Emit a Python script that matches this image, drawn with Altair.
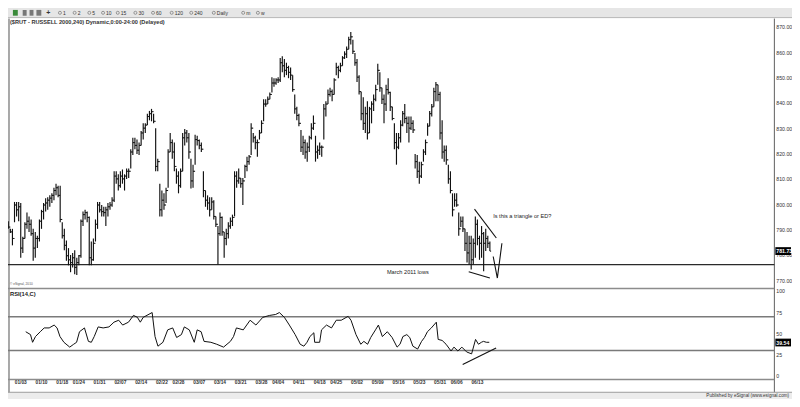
import altair as alt
import pandas as pd

W, H = 784, 391
SX, SY = W / 800.0, H / 407.0
FONT = "Liberation Sans"

# ---------------- data ----------------
# 240-minute bars of $RUT, two per trading day, bar 6 = first bar of 01/03
bar_high = [
    793.5, 790.5, 790.5, 801.1, 801.1, 801.1, 800.7, 787.4, 793.1, 796.9,
    795.4, 794.2, 790.5, 789.3, 787.8, 794.2, 798.0, 800.7, 802.6, 803.0,
    803.7, 804.5, 806.7, 808.3, 807.5, 807.5, 793.1, 790.5, 785.9, 782.9,
    780.2, 781.0, 782.1, 779.1, 780.2, 794.2, 797.3, 798.0, 797.3, 795.4,
    785.5, 786.7, 794.2, 801.1, 801.1, 799.9, 799.2, 799.2, 800.7, 801.1,
    803.0, 813.2, 813.2, 812.0, 813.2, 813.9, 812.0, 814.3, 814.3, 821.9,
    826.4, 826.4, 825.7, 824.5, 829.1, 832.1, 832.1, 835.9, 837.0, 837.8,
    835.9, 830.2, 818.1, 808.3, 805.6, 804.5, 806.7, 821.9, 828.3, 825.7,
    824.5, 814.3, 813.2, 814.3, 828.3, 829.9, 829.5, 828.3, 818.1, 815.8,
    827.6, 827.2, 825.7, 824.5, 813.2, 805.6, 803.7, 803.0, 803.0, 801.8,
    795.4, 791.6, 796.9, 795.4, 789.3, 790.5, 793.1, 795.0, 796.1, 813.2,
    813.2, 814.3, 810.5, 810.5, 815.8, 818.9, 819.6, 832.1, 828.3, 827.2,
    825.7, 829.5, 833.3, 841.6, 841.6, 842.7, 844.3, 850.3, 849.9, 849.9,
    850.3, 857.9, 858.6, 857.5, 856.0, 854.8, 854.1, 851.1, 843.5, 838.6,
    835.9, 829.5, 827.2, 825.7, 824.5, 827.2, 832.1, 835.2, 827.2, 823.4,
    824.5, 823.4, 839.7, 840.8, 845.4, 846.1, 845.4, 849.9, 856.0, 854.8,
    856.0, 858.6, 860.5, 862.4, 866.2, 868.1, 865.1, 859.8, 857.5, 851.1,
    844.6, 842.4, 838.6, 840.8, 838.6, 840.8, 843.5, 847.3, 855.6, 852.2,
    846.1, 843.5, 847.3, 849.9, 844.6, 838.6, 832.1, 828.3, 828.3, 833.3,
    837.0, 839.7, 834.8, 834.8, 834.8, 833.3, 820.0, 819.6, 817.0, 817.0,
    821.9, 825.7, 832.1, 837.0, 839.7, 846.1, 848.4, 847.3, 844.6, 833.3,
    823.4, 823.4, 815.8, 813.2, 804.5, 804.5, 804.5, 796.9, 795.4, 795.4,
    790.5, 789.3, 787.8, 787.8, 786.7, 795.4, 794.2, 787.8, 791.6, 789.3,
    790.5, 787.8, 785.5,
]
bar_low = [
    790.5, 788.9, 784.0, 793.1, 795.4, 793.5, 779.1, 781.0, 786.7, 790.5,
    789.3, 787.8, 777.9, 779.1, 782.9, 785.5, 790.5, 794.2, 797.3, 798.0,
    799.2, 800.7, 801.8, 803.7, 803.0, 793.1, 786.7, 782.1, 777.9, 776.1,
    773.4, 775.3, 772.6, 772.3, 776.1, 779.1, 791.6, 794.2, 793.1, 776.1,
    776.1, 777.9, 785.5, 790.5, 796.9, 795.4, 795.4, 791.6, 795.4, 798.0,
    799.2, 801.1, 808.3, 805.6, 806.7, 808.3, 805.6, 810.2, 810.5, 814.3,
    819.6, 821.9, 820.0, 819.6, 823.4, 825.7, 828.3, 831.4, 833.3, 832.9,
    832.1, 813.2, 813.2, 795.4, 795.4, 798.0, 800.7, 806.7, 820.8, 818.1,
    813.2, 808.3, 804.5, 806.7, 813.2, 823.4, 824.5, 818.1, 806.4, 806.7,
    815.8, 823.4, 821.9, 820.8, 803.0, 799.2, 798.0, 795.4, 798.0, 794.2,
    791.2, 776.4, 787.8, 787.8, 779.1, 784.0, 786.7, 790.5, 791.6, 795.4,
    806.7, 808.3, 806.7, 799.9, 810.5, 813.2, 815.8, 819.6, 824.5, 821.9,
    818.9, 825.7, 828.3, 832.9, 838.6, 839.7, 841.6, 844.3, 846.5, 847.3,
    848.0, 848.4, 852.2, 850.3, 851.1, 849.9, 849.2, 844.6, 835.9, 833.3,
    831.0, 820.8, 819.6, 818.1, 817.0, 820.8, 825.7, 829.5, 817.0, 818.1,
    819.6, 818.9, 825.7, 834.8, 839.7, 842.7, 840.8, 843.5, 851.1, 849.9,
    852.2, 854.8, 857.5, 857.9, 861.3, 863.2, 859.4, 854.8, 848.4, 843.5,
    833.3, 829.5, 828.3, 825.7, 828.3, 832.1, 837.0, 840.8, 847.3, 844.6,
    839.7, 832.1, 837.0, 843.5, 837.0, 833.3, 821.9, 815.8, 821.9, 824.5,
    831.0, 832.1, 828.3, 824.5, 829.5, 828.3, 814.3, 810.5, 808.3, 810.5,
    817.0, 819.6, 827.2, 831.0, 834.8, 838.6, 840.8, 840.8, 825.7, 818.1,
    817.0, 815.8, 808.3, 804.5, 795.4, 799.2, 799.2, 787.8, 791.2, 789.3,
    781.8, 777.2, 776.4, 774.5, 776.4, 779.1, 784.0, 778.3, 779.1, 773.8,
    781.8, 782.9, 781.8,
]
bar_close = [
    791.2, 789.3, 786.7, 799.9, 798.0, 799.2, 782.9, 786.7, 792.3, 793.5,
    792.3, 788.6, 782.9, 786.7, 786.7, 793.5, 797.3, 799.9, 800.7, 801.8,
    802.6, 803.7, 805.6, 806.7, 803.7, 794.2, 787.8, 784.0, 779.9, 778.3,
    777.2, 779.1, 775.3, 777.2, 779.9, 793.5, 796.1, 796.9, 795.0, 779.1,
    778.3, 784.8, 792.3, 799.9, 798.0, 797.3, 796.9, 798.0, 799.2, 799.9,
    801.8, 811.3, 810.2, 807.5, 811.3, 810.2, 811.3, 813.2, 813.2, 820.8,
    824.5, 823.4, 821.5, 823.4, 828.3, 830.2, 831.4, 834.8, 835.9, 836.7,
    832.9, 815.1, 817.0, 798.0, 801.8, 799.9, 805.6, 820.8, 824.5, 820.8,
    815.1, 811.3, 807.5, 813.2, 826.4, 828.3, 826.4, 820.8, 809.4, 813.2,
    825.7, 825.3, 823.4, 821.9, 805.6, 801.8, 800.7, 798.0, 801.1, 795.4,
    792.3, 788.6, 795.0, 789.3, 786.7, 788.6, 791.6, 793.5, 795.0, 811.3,
    809.4, 810.5, 808.3, 809.4, 815.1, 817.0, 818.9, 830.2, 826.4, 824.5,
    824.5, 828.3, 832.1, 839.7, 839.7, 841.6, 843.5, 848.0, 848.0, 849.2,
    849.2, 856.0, 854.8, 853.0, 854.1, 852.2, 851.1, 845.4, 837.8, 835.2,
    832.1, 822.7, 824.5, 820.8, 822.7, 826.4, 830.2, 832.1, 820.8, 821.5,
    822.7, 822.7, 837.8, 839.7, 843.5, 844.6, 843.5, 849.2, 854.1, 853.0,
    854.8, 857.9, 859.4, 861.3, 865.1, 866.2, 860.5, 856.0, 850.3, 844.6,
    835.9, 832.1, 835.9, 828.3, 837.8, 839.7, 841.6, 845.4, 853.0, 846.1,
    841.6, 839.7, 845.4, 844.3, 838.6, 834.0, 824.5, 822.7, 826.4, 831.4,
    835.9, 834.0, 832.1, 830.2, 832.1, 829.5, 817.0, 813.2, 811.3, 815.8,
    820.8, 824.5, 831.0, 835.9, 838.6, 844.6, 847.3, 843.5, 828.3, 820.8,
    821.5, 817.7, 810.2, 805.6, 798.0, 801.8, 799.9, 790.5, 793.5, 790.5,
    784.8, 781.0, 784.8, 778.3, 784.8, 792.3, 786.7, 784.8, 788.6, 784.8,
    786.7, 784.8, 781.7,
]
first_open = 792.0

# RSI(14,C) read as vertices of the line (bar position, value)
rsi_bar = [8.4, 10.7, 11.7, 13.1, 15.4, 17.3, 19.7, 22.1, 23.5, 24.9, 26.8, 29.6, 31.5, 32.9,
           34.3, 36.7, 38.6, 40.0, 41.4, 43.3, 45.7, 48.5, 50.9, 53.2, 55.1, 57.9, 60.3, 62.2,
           63.6, 65.0, 69.3, 70.7, 72.1, 74.5, 76.8, 79.2, 81.1, 83.4, 84.8, 87.2, 89.6, 91.0,
           92.9, 94.3, 97.6, 100.4, 103.7, 107.0, 108.5, 109.9, 113.2, 116.5, 119.3, 122.6,
           125.9, 128.8, 130.6, 133.0, 135.4, 138.2, 140.6, 142.4, 143.9, 145.3, 147.2, 147.6,
           150.0, 150.9, 153.3, 155.7, 158.0, 160.4, 163.7, 165.1, 167.5, 169.8, 171.3, 173.1,
           174.6, 176.9, 178.3, 180.2, 182.6, 184.9, 187.3, 188.7, 190.1, 192.0, 193.4, 194.9,
           197.2, 199.1, 200.5, 201.9, 203.8, 206.2, 207.1, 209.0, 210.9, 213.3, 214.7, 216.6,
           218.5, 220.8, 223.2, 225.1, 226.5, 227.9, 228.9, 230.3, 231.7]
rsi_value = [52.3, 48.9, 39.8, 46.6, 52.3, 56.8, 56.8, 60.2, 56.8, 46.6, 39.8, 34.1, 37.5, 39.8,
             52.3, 56.8, 40.9, 39.8, 46.6, 58.0, 56.8, 58.0, 63.6, 65.9, 60.2, 63.6, 71.6, 69.3,
             63.6, 69.3, 75.0, 46.6, 35.2, 39.8, 54.5, 56.8, 45.5, 48.9, 58.0, 54.5, 39.8, 54.5,
             52.3, 40.9, 39.8, 37.5, 34.1, 40.9, 46.6, 56.8, 54.5, 65.9, 60.2, 69.3,
             71.6, 72.7, 75.0, 69.3, 60.2, 48.9, 37.5, 35.2, 39.8, 46.6, 51.1, 39.8,
             39.8, 54.5, 60.2, 56.8, 65.9, 65.9, 70.5, 65.9, 48.9, 37.5, 40.9, 37.5,
             45.5, 54.5, 60.2, 46.6, 52.3, 45.5, 34.1, 37.5, 46.6, 48.9, 45.5, 35.2,
             31.8, 40.9, 45.5, 52.3, 56.8, 63.6, 43.2, 42.0, 37.5, 29.5, 34.1, 29.5,
             34.1, 28.4, 26.1, 43.2, 37.5, 39.8, 40.9, 39.8, 39.8]

date_labels = ["01/03", "01/10", "01/18", "01/24", "01/31", "02/07", "02/14", "02/22",
               "02/28", "03/07", "03/14", "03/21", "03/28", "04/04", "04/11", "04/18",
               "04/25", "05/02", "05/09", "05/16", "05/23", "05/31", "06/06", "06/13"]
date_day = [0, 5, 10, 14, 19, 24, 29, 34, 38, 43, 48, 53, 58, 62, 67, 72, 76, 81, 86, 91,
            96, 101, 105, 110]   # trading-day number from 01/03

price_ticks = [770, 780, 790, 800, 810, 820, 830, 840, 850, 860, 870]
rsi_ticks = [0, 25, 50, 75, 100]
rsi_bands = [30, 70]
march_low = 776.4
last_price = 781.73
last_rsi = 39.54

# hand-drawn annotations (bar position, value)
trend_seg = ["upper", "upper", "lower", "lower", "v", "v", "v"]
trend_bar = [224.6, 235.1, 221.8, 232.0, 233.6, 235.6, 237.8]
trend_price = [798.3, 786.9, 773.6, 771.1, 779.6, 771.1, 784.8]
rsi_trend_bar = [218.9, 235.0]
rsi_trend_value = [13.6, 33.0]

toolbar_labels = ["1", "2", "5", "10", "15", "30", "60", "120", "240", "Daily", "m", "w"]
toolbar_pos = [53, 68, 83, 97, 112, 130, 148, 167, 187, 210, 240, 255]

# ---------------- tables ----------------
n = len(bar_high)
bars = pd.DataFrame({"i": list(range(n)), "high": bar_high, "low": bar_low,
                     "close": bar_close, "open": [first_open] + bar_close[:-1]})
rsi = pd.DataFrame({"i": rsi_bar, "v": rsi_value})
dates = pd.DataFrame({"lab": date_labels, "i": [6 + 2 * d for d in date_day]})
pt = pd.DataFrame({"p": price_ticks, "lab": [f"{p:.2f}" for p in price_ticks]})
rt = pd.DataFrame({"v": rsi_ticks, "lab": [str(v) for v in rsi_ticks]})
bands = pd.DataFrame({"v": rsi_bands})
trend = pd.DataFrame({"seg": trend_seg, "i": trend_bar, "p": trend_price})
rtrend = pd.DataFrame({"i": rsi_trend_bar, "v": rsi_trend_value})
one = pd.DataFrame({"a": [0]})

xs = alt.Scale(domain=[6, 226], range=[13 * SX, 479 * SX], zero=False, nice=False)
ps = alt.Scale(domain=[770, 870], range=[284 * SY, 20 * SY], zero=False, nice=False)
rs = alt.Scale(domain=[0, 100], range=[383 * SY, 295 * SY], zero=False, nice=False)


def XQ(f):
    return alt.X(f, type="quantitative", scale=xs, axis=None)


def YP(f):
    return alt.Y(f, type="quantitative", scale=ps, axis=None)


def YR(f):
    return alt.Y(f, type="quantitative", scale=rs, axis=None)


def px(v):
    return v * SX


def py(v):
    return v * SY


def hline(y, x0, x1, color, w):
    return alt.Chart(one).mark_rule(color=color, strokeWidth=w).encode(
        x=alt.value(px(x0)), x2=alt.value(px(x1)), y=alt.value(py(y)))


def vline(x, y0, y1, color, w):
    return alt.Chart(one).mark_rule(color=color, strokeWidth=w).encode(
        x=alt.value(px(x)), y=alt.value(py(y0)), y2=alt.value(py(y1)))


def rect(x0, x1, y0, y1, color):
    return alt.Chart(one).mark_rect(color=color).encode(
        x=alt.value(px(x0)), x2=alt.value(px(x1)), y=alt.value(py(y0)), y2=alt.value(py(y1)))


def label(txt, x, y, size, align="left", weight="normal", color="#222"):
    return alt.Chart(one).mark_text(align=align, baseline="middle", fontSize=size, font=FONT,
                                     fontWeight=weight, color=color).encode(
        x=alt.value(px(x)), y=alt.value(py(y)), text=alt.value(txt))


layers = []
# window chrome
layers.append(rect(0, 800, 0, 10, "#e6e6e6"))
layers.append(hline(10, 0, 800, "#b8b8b8", 1))
layers.append(rect(5, 10, 2, 8, "#3a8a3a"))
layers.append(rect(15, 19, 2, 8, "#777777"))
layers.append(rect(22, 26, 2, 8, "#777777"))
layers.append(rect(29, 34, 2, 8, "#777777"))
layers.append(label("+", 41, 5, 7, "center", "bold", "#333"))
tb = pd.DataFrame({"lab": toolbar_labels, "x": [px(v) for v in toolbar_pos]})
layers.append(alt.Chart(tb).mark_point(shape="circle", filled=False, size=9, color="#555",
                                        strokeWidth=0.8).encode(
    x=alt.X("x:Q", scale=None), y=alt.value(py(5))))
layers.append(alt.Chart(tb).mark_text(align="left", baseline="middle", fontSize=5, font=FONT,
                                       color="#333", dx=3).encode(
    x=alt.X("x:Q", scale=None), y=alt.value(py(5)), text="lab:N"))
layers.append(label("($RUT - RUSSELL 2000,240) Dynamic,0:00-24:00 (Delayed)", 2, 14.5, 5.6,
                    weight="bold", color="#333"))

# panel frames
layers.append(vline(1, 11, 400, "#a8a8a8", 2))
layers.append(vline(782, 11, 400, "#606060", 1))
layers.append(hline(292, 0, 782, "#8c8c8c", 1.5))
layers.append(hline(386.8, 0, 782, "#8c8c8c", 1.5))
layers.append(rect(0, 800, 400.5, 407, "#ececec"))
layers.append(hline(400, 0, 800, "#9a9a9a", 1))
layers.append(label("Published by eSignal (www.esignal.com)", 797, 404, 4.6, "right", color="#333"))
layers.append(label("\u00a9 eSignal, 2010", 2, 287.5, 3.2, color="#555"))
layers.append(label("RSI(14,C)", 2, 297.5, 5.8, weight="bold", color="#222"))

# price panel
layers.append(alt.Chart(pd.DataFrame({"p": [march_low]})).mark_rule(
    color="#2a2a2a", strokeWidth=1.4).encode(
    y=YP("p"), x=alt.value(0), x2=alt.value(px(782))))
layers.append(alt.Chart(bars).mark_rule(color="#111111", strokeWidth=1.15).encode(
    x=XQ("i"), y=YP("low"), y2="high"))
layers.append(alt.Chart(bars).transform_calculate(xo="datum.i - 0.6").mark_rule(
    color="#111111", strokeWidth=1).encode(x=XQ("xo"), x2="i:Q", y=YP("open")))
layers.append(alt.Chart(bars).transform_calculate(xc="datum.i + 0.6").mark_rule(
    color="#111111", strokeWidth=1).encode(x=XQ("i"), x2="xc:Q", y=YP("close")))
layers.append(alt.Chart(trend).mark_line(color="#111111", strokeWidth=1.1).encode(
    x=XQ("i"), y=YP("p"), detail="seg:N"))
layers.append(alt.Chart(pd.DataFrame({"i": [233.6], "p": [795.4],
                                      "t": ["Is this a triangle or ED?"]})).mark_text(
    align="left", baseline="middle", fontSize=5.6, font=FONT, color="#222").encode(
    x=XQ("i"), y=YP("p"), text="t:N"))
layers.append(alt.Chart(pd.DataFrame({"i": [192.5], "p": [773.4],
                                      "t": ["March 2011 lows"]})).mark_text(
    align="center", baseline="middle", fontSize=5.6, font=FONT, color="#222").encode(
    x=XQ("i"), y=YP("p"), text="t:N"))

# price axis
layers.append(alt.Chart(pt).mark_text(align="left", baseline="middle", fontSize=5.2, font=FONT,
                                       color="#333").encode(
    x=alt.value(px(784)), y=YP("p"), text="lab:N"))
layers.append(alt.Chart(pd.DataFrame({"p": [last_price]})).transform_calculate(
    a="datum.p + 1.55", b="datum.p - 1.55").mark_rect(color="#000000").encode(
    x=alt.value(px(783)), x2=alt.value(px(799)), y=YP("a"), y2="b:Q"))
layers.append(alt.Chart(pd.DataFrame({"p": [last_price]})).transform_calculate(
    t="format(datum.p, '.2f')").mark_text(
    align="left", baseline="middle", fontSize=5.2, font=FONT, fontWeight="bold",
    color="white").encode(x=alt.value(px(784)), y=YP("p"), text="t:N"))

# RSI panel
layers.append(alt.Chart(bands).mark_rule(color="#7a7a7a", strokeWidth=1.5).encode(
    y=YR("v"), x=alt.value(0), x2=alt.value(px(782))))
layers.append(alt.Chart(rsi).mark_line(color="#111111", strokeWidth=1.0).encode(
    x=XQ("i"), y=YR("v"), order="i:Q"))
layers.append(alt.Chart(rtrend).mark_line(color="#111111", strokeWidth=1.1).encode(
    x=XQ("i"), y=YR("v")))
layers.append(alt.Chart(rt).mark_text(align="left", baseline="middle", fontSize=5.2, font=FONT,
                                       color="#333").encode(
    x=alt.value(px(784)), y=YR("v"), text="lab:N"))
layers.append(alt.Chart(pd.DataFrame({"v": [last_rsi]})).transform_calculate(
    a="datum.v + 4.6", b="datum.v - 4.6").mark_rect(color="#000000").encode(
    x=alt.value(px(783)), x2=alt.value(px(799)), y=YR("a"), y2="b:Q"))
layers.append(alt.Chart(pd.DataFrame({"v": [last_rsi]})).transform_calculate(
    t="format(datum.v, '.2f')").mark_text(
    align="left", baseline="middle", fontSize=5.2, font=FONT, fontWeight="bold",
    color="white").encode(x=alt.value(px(784)), y=YR("v"), text="t:N"))

# date axis
layers.append(alt.Chart(dates).mark_text(align="center", baseline="middle", fontSize=4.8,
                                          font=FONT, fontWeight="bold", color="#333").encode(
    x=XQ("i"), y=alt.value(py(390)), text="lab:N"))

chart = alt.layer(*layers).resolve_scale(x="independent", y="independent").properties(
    width=W, height=H, autosize=alt.AutoSizeParams(type="none"), padding=0,
    background="white").configure_view(strokeWidth=0)

chart.save("out.html", embed_options={"renderer": "svg", "actions": False})
